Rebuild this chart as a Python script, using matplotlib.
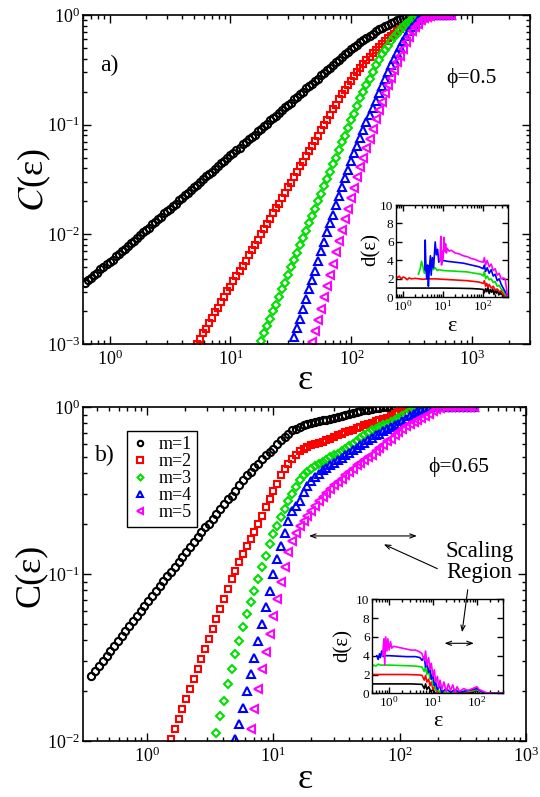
import matplotlib
matplotlib.use("Agg")
import matplotlib.pyplot as plt
import numpy as np

plt.rcParams['font.family'] = ['Liberation Serif', 'DejaVu Serif']
plt.rcParams['mathtext.fontset'] = 'stix'

# ---------------- panel a) phi = 0.5 ----------------
# log10(eps) grid, every series ends on the last grid point
log_eps_a = [
    -0.2, -0.175, -0.15, -0.125, -0.1, -0.075, -0.05, -0.025,
    0.0, 0.025, 0.05, 0.075, 0.1, 0.125, 0.15, 0.175, 0.2, 0.225, 0.25, 0.275,
    0.3, 0.325, 0.35, 0.375, 0.4, 0.425, 0.45, 0.475, 0.5, 0.525, 0.55, 0.575,
    0.6, 0.625, 0.65, 0.675, 0.7, 0.725, 0.75, 0.775, 0.8, 0.825, 0.85, 0.875,
    0.9, 0.925, 0.95, 0.975,
    1.0, 1.025, 1.05, 1.075, 1.1, 1.125, 1.15, 1.175, 1.2, 1.225, 1.25, 1.275,
    1.3, 1.325, 1.35, 1.375, 1.4, 1.425, 1.45, 1.475, 1.5, 1.525, 1.55, 1.575,
    1.6, 1.625, 1.65, 1.675, 1.7, 1.725, 1.75, 1.775, 1.8, 1.825, 1.85, 1.875,
    1.9, 1.925, 1.95, 1.975,
    2.0, 2.025, 2.05, 2.075, 2.1, 2.125, 2.15, 2.175, 2.2, 2.225, 2.25, 2.275,
    2.3, 2.325, 2.35, 2.375, 2.4, 2.425, 2.45, 2.475, 2.5, 2.525, 2.55, 2.575,
    2.6, 2.625, 2.65, 2.675, 2.7, 2.725, 2.75, 2.775, 2.8, 2.825]

# log10 C(eps)
logc_a_m1 = [
    -2.44, -2.42, -2.40, -2.37, -2.35, -2.32, -2.30, -2.27,
    -2.25, -2.23, -2.20, -2.18, -2.15, -2.13, -2.11, -2.08,
    -2.06, -2.03, -2.01, -1.98, -1.96, -1.94, -1.91, -1.89,
    -1.86, -1.84, -1.81, -1.79, -1.77, -1.74, -1.72, -1.69,
    -1.67, -1.64, -1.62, -1.60, -1.57, -1.55, -1.52, -1.50,
    -1.47, -1.45, -1.43, -1.40, -1.38, -1.35, -1.33, -1.30,
    -1.28, -1.26, -1.23, -1.21, -1.18, -1.16, -1.13, -1.11,
    -1.09, -1.06, -1.04, -1.01, -0.99, -0.96, -0.94, -0.92,
    -0.89, -0.87, -0.84, -0.82, -0.80, -0.77, -0.75, -0.72,
    -0.70, -0.67, -0.65, -0.63, -0.60, -0.58, -0.55, -0.53,
    -0.50, -0.48, -0.46, -0.43, -0.41, -0.38, -0.36, -0.34,
    -0.31, -0.29, -0.27, -0.25, -0.23, -0.21, -0.19, -0.17,
    -0.15, -0.13, -0.12, -0.10, -0.09, -0.07, -0.06, -0.05,
    -0.04, -0.03, -0.02, -0.02, -0.01, -0.01, 0, 0,
    0, 0, 0, 0, 0, 0, 0, 0, 0, 0]
logc_a_m2 = [
    -3.00, -2.95, -2.90,
    -2.86, -2.81, -2.76, -2.71, -2.67, -2.62, -2.57, -2.52,
    -2.48, -2.43, -2.38, -2.33, -2.29, -2.24, -2.19, -2.14,
    -2.10, -2.05, -2.00, -1.95, -1.91, -1.86, -1.81, -1.76,
    -1.72, -1.67, -1.62, -1.57, -1.53, -1.48, -1.43, -1.38,
    -1.34, -1.29, -1.24, -1.19, -1.15, -1.10, -1.05, -1.00,
    -0.96, -0.91, -0.86, -0.82, -0.77, -0.72, -0.68, -0.64,
    -0.60, -0.56, -0.52, -0.48, -0.45, -0.41, -0.38, -0.35,
    -0.32, -0.29, -0.26, -0.24, -0.21, -0.19, -0.17, -0.15,
    -0.13, -0.11, -0.09, -0.07, -0.05, -0.03, -0.02, -0.01,
    0, 0, 0, 0, 0, 0, 0, 0, 0, 0]
logc_a_m3 = [
    -2.97, -2.90, -2.84, -2.77, -2.70, -2.64,
    -2.57, -2.50, -2.44, -2.37, -2.30, -2.23, -2.17, -2.10,
    -2.03, -1.97, -1.90, -1.83, -1.77, -1.70, -1.63, -1.56,
    -1.50, -1.43, -1.36, -1.30, -1.23, -1.16, -1.10, -1.03,
    -0.96, -0.90, -0.83, -0.76, -0.70, -0.64, -0.58, -0.52,
    -0.46, -0.41, -0.36, -0.32, -0.28, -0.24, -0.20, -0.17,
    -0.14, -0.11, -0.08, -0.06, -0.04, -0.025, -0.01, -0.005,
    0, 0, 0, 0, 0, 0, 0, 0, 0, 0]
logc_a_m4 = [
    -2.94, -2.85, -2.77,
    -2.68, -2.59, -2.50, -2.42, -2.33, -2.24, -2.15, -2.07,
    -1.98, -1.90, -1.82, -1.73, -1.65, -1.57, -1.49, -1.41,
    -1.33, -1.26, -1.19, -1.12, -1.05, -0.98, -0.91, -0.85,
    -0.78, -0.71, -0.65, -0.58, -0.52, -0.46, -0.40, -0.35,
    -0.29, -0.24, -0.19, -0.15, -0.11, -0.08, -0.05, -0.03,
    -0.01, -0.005, 0, 0, 0, 0, 0, 0, 0, 0]
logc_a_m5 = [
    -2.98, -2.88, -2.78, -2.68, -2.57,
    -2.47, -2.37, -2.27, -2.16, -2.06, -1.96, -1.86, -1.77,
    -1.67, -1.58, -1.48, -1.39, -1.30, -1.21, -1.13, -1.04,
    -0.95, -0.87, -0.79, -0.71, -0.64, -0.57, -0.50, -0.43,
    -0.37, -0.31, -0.25, -0.20, -0.15, -0.11, -0.08, -0.05,
    -0.03, -0.015, -0.005, 0, 0, 0, 0, 0, 0, 0]

# inset a): local slope d(eps)
ins_a_u_m1 = [-0.19, 0.2, 0.6, 1.0, 1.4, 1.7, 1.9, 2.0, 2.03, 2.06, 2.09, 2.12, 2.15, 2.18,
              2.21, 2.24, 2.27, 2.3, 2.33, 2.36, 2.39, 2.42, 2.45, 2.48, 2.51, 2.54, 2.57, 2.6]
ins_a_d_m1 = [1.0, 1.0, 1.0, 1.0, 0.98, 0.95, 0.9, 0.85, 0.5, 0.95, 0.6, 1.05, 0.4, 0.85,
              0.55, 0.9, 0.3, 0.75, 0.45, 0.8, 0.25, 0.55, 0.3, 0.45, 0.15, 0.2, 0.05, 0.0]
ins_a_u_m2 = [-0.19, -0.15, -0.1, -0.05, 0, 0.05, 0.1, 0.15, 0.2, 0.3, 0.4, 0.5, 0.6, 0.8,
              1.0, 1.2, 1.4, 1.6, 1.8, 1.9, 2.0, 2.03, 2.06, 2.09, 2.12, 2.15, 2.2, 2.25,
              2.3, 2.35, 2.4, 2.45, 2.5, 2.55, 2.6]
ins_a_d_m2 = [2.4, 2.1, 2.3, 2.0, 2.2, 2.1, 1.9, 2.1, 2.0, 2.05, 2.0, 1.95, 2.0, 2.0,
              1.95, 1.9, 1.85, 1.8, 1.7, 1.65, 1.5, 1.8, 1.2, 1.5, 1.1, 1.4, 1.0, 1.2,
              0.8, 0.9, 0.6, 0.7, 0.3, 0.2, 0.0]
ins_a_u_m3 = [0.38, 0.42, 0.46, 0.5, 0.53, 0.56, 0.6, 0.63, 0.66, 0.7, 0.75, 0.8, 0.85, 0.9,
              1.0, 1.2, 1.4, 1.6, 1.8, 1.95, 2.0, 2.03, 2.06, 2.1, 2.15, 2.2, 2.25, 2.3,
              2.35, 2.4, 2.45, 2.5, 2.55, 2.6]
ins_a_d_m3 = [2.5, 3.0, 3.9, 3.2, 2.6, 3.5, 2.5, 3.4, 2.9, 3.5, 3.0, 3.2, 2.9, 3.0,
              2.9, 2.85, 2.8, 2.75, 2.6, 2.5, 2.3, 2.8, 2.0, 2.3, 1.9, 2.0, 1.6, 1.7,
              1.2, 1.3, 0.9, 0.7, 0.3, 0.1]
ins_a_u_m4 = [0.54, 0.55, 0.57, 0.59, 0.61, 0.63, 0.65, 0.68, 0.7, 0.73, 0.76, 0.8, 0.83,
              0.86, 0.89, 0.93, 0.97, 1.0, 1.1, 1.3, 1.5, 1.7, 1.9, 2.0, 2.03, 2.06, 2.1,
              2.15, 2.2, 2.25, 2.3, 2.35, 2.4, 2.45, 2.5, 2.55, 2.6]
ins_a_d_m4 = [3.0, 6.2, 3.0, 2.0, 3.5, 1.2, 2.8, 4.5, 2.4, 4.3, 3.2, 6.0, 4.6,
              5.2, 3.8, 4.2, 3.8, 4.0, 3.9, 3.8, 3.7, 3.5, 3.3, 3.1, 3.5, 2.8, 3.2,
              2.6, 3.0, 2.3, 2.5, 1.8, 2.0, 1.4, 1.0, 0.6, 0.2]
ins_a_u_m5 = [0.92, 0.94, 0.96, 0.98, 1.0, 1.02, 1.04, 1.06, 1.08, 1.1, 1.15, 1.2, 1.3, 1.4,
              1.5, 1.6, 1.7, 1.8, 1.9, 2.0, 2.03, 2.06, 2.1, 2.15, 2.2, 2.25, 2.3, 2.35,
              2.4, 2.45, 2.5, 2.55, 2.58, 2.6]
ins_a_d_m5 = [4.0, 6.6, 3.5, 5.0, 4.2, 6.5, 5.0, 5.8, 4.8, 5.3, 5.0, 5.1, 4.8, 4.7,
              4.5, 4.4, 4.2, 4.1, 3.9, 3.8, 4.3, 3.5, 4.0, 3.3, 3.6, 2.9, 3.1, 2.4,
              2.6, 2.0, 2.1, 2.0, 1.0, 0.2]

# ---------------- panel b) phi = 0.65 ----------------
log_eps_b = [
    -0.44, -0.41, -0.38, -0.35, -0.32, -0.29, -0.26, -0.23, -0.20, -0.17, -0.14, -0.11,
    -0.08, -0.05, -0.02,
    0.01, 0.04, 0.07, 0.10, 0.13, 0.16, 0.19, 0.22, 0.25, 0.28, 0.31, 0.34, 0.37, 0.40,
    0.43, 0.46, 0.49, 0.52, 0.55, 0.58, 0.61, 0.64, 0.67, 0.70, 0.73, 0.76, 0.79, 0.82,
    0.85, 0.88, 0.91, 0.94, 0.97,
    1.00, 1.03, 1.06, 1.09, 1.12, 1.15, 1.18, 1.21, 1.24, 1.27, 1.30, 1.33, 1.36, 1.39,
    1.42, 1.45, 1.48, 1.51, 1.54, 1.57, 1.60, 1.63, 1.66, 1.69, 1.72, 1.75, 1.78, 1.81,
    1.84, 1.87, 1.90, 1.93, 1.96, 1.99,
    2.02, 2.05, 2.08, 2.11, 2.14, 2.17, 2.20, 2.23, 2.26, 2.29, 2.32, 2.35, 2.38, 2.41,
    2.44, 2.47, 2.50, 2.53, 2.56, 2.59]

logc_b_m1 = [
    -1.61, -1.58, -1.55, -1.52, -1.49, -1.46, -1.43, -1.40, -1.37, -1.34,
    -1.31, -1.28, -1.25, -1.22, -1.19, -1.16, -1.13, -1.10, -1.07, -1.04,
    -1.01, -0.99, -0.96, -0.93, -0.90, -0.87, -0.84, -0.81, -0.78, -0.75,
    -0.72, -0.70, -0.67, -0.64, -0.61, -0.58, -0.55, -0.53, -0.50, -0.47,
    -0.44, -0.41, -0.39, -0.36, -0.34, -0.31, -0.29, -0.27, -0.25, -0.22,
    -0.20, -0.18, -0.16, -0.14, -0.13, -0.12, -0.11, -0.10, -0.094, -0.089,
    -0.084, -0.079, -0.075, -0.070, -0.064, -0.058, -0.052, -0.046, -0.040, -0.035,
    -0.030, -0.025, -0.020, -0.015, -0.011, -0.007, -0.004, -0.002,
    0, 0, 0, 0, 0, 0, 0, 0, 0, 0, 0, 0, 0, 0, 0, 0, 0, 0, 0, 0, 0, 0, 0, 0]
logc_b_m2 = [
    -1.99, -1.93, -1.87, -1.81, -1.75, -1.69, -1.63, -1.57, -1.51,
    -1.45, -1.39, -1.33, -1.27, -1.21, -1.15, -1.09, -1.03, -0.98, -0.93,
    -0.88, -0.83, -0.79, -0.75, -0.70, -0.65, -0.60, -0.55, -0.50, -0.46,
    -0.41, -0.37, -0.34, -0.31, -0.285, -0.265, -0.25, -0.24, -0.23, -0.22,
    -0.215, -0.21, -0.20, -0.19, -0.18, -0.17, -0.16, -0.15, -0.145, -0.135,
    -0.125, -0.118, -0.11, -0.10, -0.095, -0.085, -0.08, -0.07, -0.065, -0.055,
    -0.04, -0.03, -0.015, -0.008, -0.003,
    0, 0, 0, 0, 0, 0, 0, 0, 0, 0, 0, 0, 0, 0, 0, 0, 0]
logc_b_m3 = [
    -1.95, -1.85, -1.76, -1.66, -1.57, -1.48, -1.40,
    -1.32, -1.24, -1.17, -1.10, -1.03, -0.96, -0.89, -0.82, -0.76, -0.71,
    -0.66, -0.61, -0.56, -0.52, -0.48, -0.44, -0.41, -0.39, -0.37, -0.355,
    -0.34, -0.33, -0.315, -0.30, -0.29, -0.28, -0.265, -0.25, -0.235, -0.22,
    -0.205, -0.185, -0.17, -0.155, -0.14, -0.13, -0.12, -0.11, -0.10, -0.09,
    -0.08, -0.065, -0.055, -0.04, -0.025, -0.012, -0.005,
    0, 0, 0, 0, 0, 0, 0, 0, 0, 0, 0, 0, 0, 0, 0]
logc_b_m4 = [
    -1.99, -1.90,
    -1.80, -1.70, -1.60, -1.50, -1.40, -1.30, -1.20, -1.10, -1.00, -0.91,
    -0.83, -0.755, -0.685, -0.625, -0.59, -0.56, -0.51, -0.475, -0.445, -0.42,
    -0.40, -0.38, -0.365, -0.35, -0.335, -0.32, -0.305, -0.29, -0.275, -0.26,
    -0.245, -0.23, -0.215, -0.20, -0.185, -0.17, -0.16, -0.145, -0.13, -0.12,
    -0.11, -0.10, -0.085, -0.07, -0.055, -0.04, -0.028, -0.018, -0.01, -0.004,
    0, 0, 0, 0, 0, 0, 0, 0, 0, 0, 0, 0]
logc_b_m5 = [
    -1.93, -1.81, -1.69, -1.57, -1.465, -1.36, -1.25, -1.15,
    -1.05, -0.96, -0.87, -0.80, -0.755, -0.715, -0.68, -0.65, -0.62, -0.59,
    -0.565, -0.54, -0.515, -0.49, -0.47, -0.45, -0.43, -0.41, -0.39, -0.37,
    -0.35, -0.335, -0.32, -0.30, -0.285, -0.265, -0.245, -0.225, -0.205, -0.19,
    -0.17, -0.15, -0.13, -0.115, -0.10, -0.09, -0.078, -0.066, -0.055, -0.04,
    -0.025, -0.012, -0.005,
    0, 0, 0, 0, 0, 0, 0, 0, 0]

# inset b)
ins_b_u_m1 = [-0.4, 0.0, 0.5, 0.75, 0.8, 0.83, 0.86, 0.9, 0.95, 1.0, 1.05, 1.2, 1.5, 1.9,
              2.0, 2.1, 2.6]
ins_b_d_m1 = [1.0, 1.0, 1.0, 0.95, 0.5, 1.0, 0.4, 0.7, 0.2, 0.4, 0.0, 0.1, 0.0, 0.1,
              0.3, 0.0, 0.0]
ins_b_u_m2 = [-0.4, 0.0, 0.4, 0.7, 0.75, 0.8, 0.83, 0.86, 0.9, 0.93, 0.96, 1.0, 1.05, 1.1,
              1.2, 1.3, 1.6, 1.9, 2.0, 2.1, 2.2, 2.6]
ins_b_d_m2 = [2.0, 2.0, 2.0, 1.95, 1.9, 1.4, 1.9, 1.2, 1.5, 0.8, 1.2, 0.4, 0.7, 0.1,
              0.2, 0.0, 0.1, 0.2, 0.4, 0.1, 0.0, 0.0]
ins_b_u_m3 = [-0.4, -0.35, -0.3, -0.25, -0.2, 0.0, 0.3, 0.6, 0.75, 0.8, 0.83, 0.86, 0.9,
              0.93, 0.96, 1.0, 1.03, 1.06, 1.1, 1.15, 1.2, 1.3, 1.5, 1.8, 2.0, 2.1, 2.2, 2.6]
ins_b_d_m3 = [2.8, 3.0, 2.9, 3.1, 3.0, 3.0, 2.95, 2.9, 2.8, 2.3, 2.9, 2.0, 2.5,
              1.5, 2.0, 0.8, 1.2, 0.3, 0.6, 0.1, 0.3, 0.0, 0.2, 0.2, 0.4, 0.1, 0.0, 0.0]
ins_b_u_m4 = [-0.28, -0.25, -0.22, -0.2, -0.17, -0.14, -0.1, 0.0, 0.2, 0.4, 0.6, 0.7, 0.75,
              0.8, 0.83, 0.86, 0.9, 0.93, 0.96, 1.0, 1.03, 1.06, 1.1, 1.15, 1.2, 1.3, 1.4,
              1.5, 1.6, 1.8, 2.0, 2.1, 2.2, 2.6]
ins_b_d_m4 = [4.0, 3.6, 4.2, 3.8, 4.5, 3.9, 4.0, 4.0, 3.95, 3.9, 3.9, 3.8, 3.5,
              3.9, 2.8, 3.3, 2.2, 2.8, 1.5, 2.0, 0.8, 1.2, 0.4, 0.8, 0.1, 0.5, 0.1,
              0.4, 0.1, 0.3, 0.5, 0.2, 0.0, 0.0]
ins_b_u_m5 = [-0.15, -0.12, -0.1, -0.08, -0.05, -0.03, 0.0, 0.03, 0.06, 0.1, 0.2, 0.3, 0.4,
              0.5, 0.6, 0.7, 0.75, 0.8, 0.83, 0.86, 0.9, 0.93, 0.96, 1.0, 1.03, 1.06, 1.1,
              1.13, 1.16, 1.2, 1.25, 1.3, 1.35, 1.4, 1.45, 1.5, 1.55, 1.6, 1.7, 1.8, 1.9,
              2.0, 2.05, 2.1, 2.2, 2.3, 2.6]
ins_b_d_m5 = [4.0, 5.8, 3.0, 6.0, 4.5, 5.8, 4.6, 5.5, 4.8, 5.0, 4.9, 4.8, 4.7,
              4.6, 4.6, 4.4, 4.2, 3.5, 4.5, 3.0, 3.8, 2.5, 3.2, 1.8, 2.5, 1.2, 1.8,
              0.6, 1.4, 0.4, 1.2, 0.2, 1.0, 0.3, 0.9, 0.1, 0.7, 0.2, 0.5, 0.3, 0.5,
              0.7, 0.4, 0.3, 0.1, 0.0, 0.0]

labels = ['m=1', 'm=2', 'm=3', 'm=4', 'm=5']
colors = ['#000000', '#ff0000', '#00e000', '#0000ff', '#ff00ff']
markers = ['o', 's', 'D', '^', '<']
msizes = [5.2, 5.0, 4.0, 6.0, 6.0]

assert len(log_eps_a) == 122 and len(log_eps_b) == 102
for s, n in zip([logc_a_m1, logc_a_m2, logc_a_m3, logc_a_m4, logc_a_m5], [122, 85, 64, 53, 47]):
    assert len(s) == n, (len(s), n)
for s, n in zip([logc_b_m1, logc_b_m2, logc_b_m3, logc_b_m4, logc_b_m5], [102, 81, 69, 64, 60]):
    assert len(s) == n, (len(s), n)


def style_axes(ax, major=6, minor=3, lw=1.2, size=13, pad=3):
    for sp in ax.spines.values():
        sp.set_linewidth(lw)
    ax.tick_params(which='both', direction='in', top=True, right=True, width=1.0)
    ax.tick_params(which='major', length=major, labelsize=size, pad=pad)
    ax.tick_params(which='minor', length=minor)


def draw_main(ax, log_eps, series):
    eps = 10 ** np.array(log_eps)
    handles = []
    for i, s in enumerate(series):
        x = eps[-len(s):]
        y = 10 ** np.array(s)
        h, = ax.plot(x, y, ls='none', marker=markers[i], ms=msizes[i], mfc='none',
                     mec=colors[i], mew=1.5, label=labels[i])
        handles.append(h)
    ax.set_xscale('log')
    ax.set_yscale('log')
    return handles


def draw_inset(ax, lines, xlim):
    for i, (u, d) in enumerate(lines):
        ax.plot(10 ** np.array(u), d, color=colors[i], lw=1.2)
    ax.set_xscale('log')
    ax.set_xlim(*xlim)
    ax.set_ylim(0, 10)
    ax.set_yticks([0, 2, 4, 6, 8, 10])
    style_axes(ax, major=4, minor=2, lw=1.0, size=9.5, pad=1.5)


fig = plt.figure(figsize=(5.4, 7.97), dpi=100)
W, H = 540.0, 797.0

# ---- panel a
ax_a = fig.add_axes([82.7 / W, 1 - 344 / H, 447.3 / W, 329 / H])
draw_main(ax_a, log_eps_a, [logc_a_m1, logc_a_m2, logc_a_m3, logc_a_m4, logc_a_m5])
ax_a.set_xlim(0.6, 3000)
ax_a.set_ylim(1e-3, 1)
style_axes(ax_a, pad=4)
ax_a.tick_params(axis='y', pad=2)
ax_a.text(0.039, 0.848, 'a)', transform=ax_a.transAxes, fontsize=17, va='center')
ax_a.text(0.812, 0.808, 'ϕ=0.5', transform=ax_a.transAxes, fontsize=15.5, va='center')
fig.text(34 / W, 1 - 180 / H, '$C$(ε)', rotation=90, fontsize=26, ha='center', va='center')
fig.text(305 / W, 1 - 380 / H, 'ε', fontsize=26, ha='center', va='center')

in_a = fig.add_axes([395.7 / W, 1 - 297.3 / H, 112 / W, 92.3 / H])
draw_inset(in_a, [(ins_a_u_m1, ins_a_d_m1), (ins_a_u_m2, ins_a_d_m2), (ins_a_u_m3, ins_a_d_m3),
                  (ins_a_u_m4, ins_a_d_m4), (ins_a_u_m5, ins_a_d_m5)], (0.65, 410))
fig.text(371 / W, 1 - 249 / H, 'd(ε)', rotation=90, fontsize=15, ha='center', va='center')
fig.text(451.7 / W, 1 - 326 / H, 'ε', fontsize=16, ha='center', va='center')

# ---- panel b
ax_b = fig.add_axes([82.7 / W, 1 - 741 / H, 443.3 / W, 334 / H])
handles = draw_main(ax_b, log_eps_b, [logc_b_m1, logc_b_m2, logc_b_m3, logc_b_m4, logc_b_m5])
ax_b.set_xlim(0.31, 1000)
ax_b.set_ylim(1e-2, 1)
style_axes(ax_b, pad=4)
ax_b.tick_params(axis='y', pad=2)
ax_b.text(0.0275, 0.856, 'b)', transform=ax_b.transAxes, fontsize=17, va='center')
ax_b.text(0.78, 0.821, 'ϕ=0.65', transform=ax_b.transAxes, fontsize=15.5, va='center')
ax_b.text(0.895, 0.537, 'Scaling\nRegion', transform=ax_b.transAxes, fontsize=16.5,
          ha='center', va='center', linespacing=1.0)
fig.text(30 / W, 1 - 575 / H, 'C(ε)', rotation=90, fontsize=26, ha='center', va='center')
fig.text(305 / W, 1 - 780 / H, 'ε', fontsize=26, ha='center', va='center')

leg = ax_b.legend(handles=handles, loc='upper left', bbox_to_anchor=(0.099, 0.928),
                  fontsize=13, numpoints=1, handlelength=0.9, handletextpad=0.55,
                  labelspacing=0.0, borderpad=0.3, borderaxespad=0.0, fancybox=False,
                  framealpha=1, edgecolor='black', markerscale=0.75)
leg.get_frame().set_linewidth(1.0)

arrow_kw = dict(arrowstyle='<->,head_length=0.4,head_width=0.15', color='black', lw=0.8)
ax_b.annotate('', xy=(144, 0.169), xytext=(18.2, 0.169), arrowprops=arrow_kw)
ax_b.annotate('', xy=(71.5, 0.153), xytext=(208, 0.106),
              arrowprops=dict(arrowstyle='->,head_length=0.4,head_width=0.15',
                              color='black', lw=0.8))

in_b = fig.add_axes([371.7 / W, 1 - 693.3 / H, 131.6 / W, 94 / H])
draw_inset(in_b, [(ins_b_u_m1, ins_b_d_m1), (ins_b_u_m2, ins_b_d_m2), (ins_b_u_m3, ins_b_d_m3),
                  (ins_b_u_m4, ins_b_d_m4), (ins_b_u_m5, ins_b_d_m5)], (0.4, 400))
in_b.annotate('', xy=(98.9, 5.32), xytext=(15.8, 5.32), arrowprops=arrow_kw)
in_b.annotate('', xy=(45.1, 6.2), xycoords='data', xytext=(348, 0.0836),
              textcoords=ax_b.transData, annotation_clip=False,
              arrowprops=dict(arrowstyle='->,head_length=0.4,head_width=0.15',
                              color='black', lw=0.8))
fig.text(343 / W, 1 - 645 / H, 'd(ε)', rotation=90, fontsize=15, ha='center', va='center')
fig.text(437.5 / W, 1 - 721 / H, 'ε', fontsize=16, ha='center', va='center')

fig.savefig('out.png', dpi=100)
